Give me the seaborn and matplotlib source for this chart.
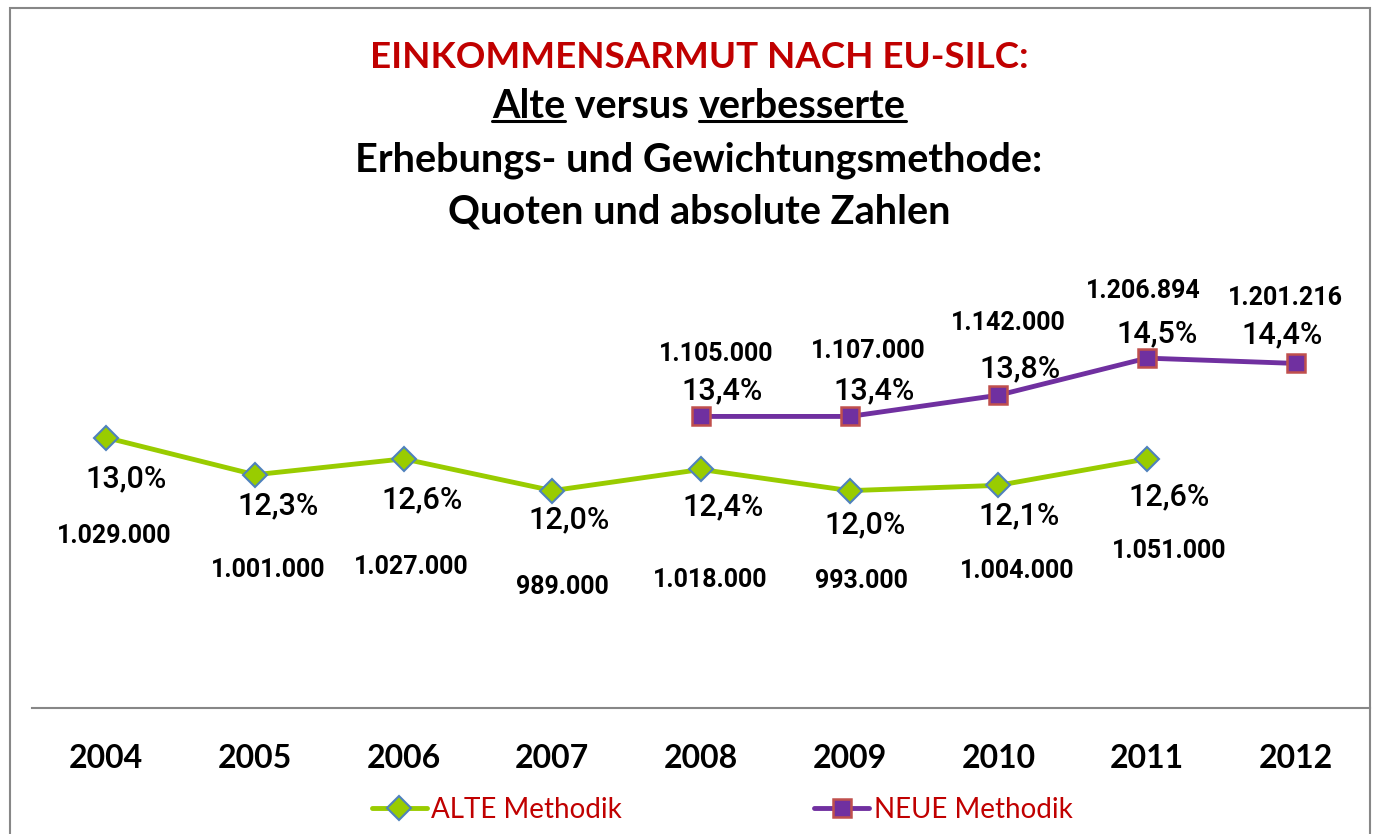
import seaborn as sns
import pandas as pd
from matplotlib import pyplot as plt
from matplotlib.lines import Line2D
from matplotlib.patches import Rectangle

# data
years = [2004, 2005, 2006, 2007, 2008, 2009, 2010, 2011, 2012]
alt_years = [2004, 2005, 2006, 2007, 2008, 2009, 2010, 2011]
alt_rate = [13.0, 12.3, 12.6, 12.0, 12.4, 12.0, 12.1, 12.6]
alt_abs = ["1.029.000", "1.001.000", "1.027.000", "989.000", "1.018.000",
           "993.000", "1.004.000", "1.051.000"]
neu_years = [2008, 2009, 2010, 2011, 2012]
neu_rate = [13.4, 13.4, 13.8, 14.5, 14.4]
neu_abs = ["1.105.000", "1.107.000", "1.142.000", "1.206.894", "1.201.216"]

# label offsets in pixels (dx, dy downward positive)
alt_pct_off = [(20, 41), (23, 31), (18, 41), (17, 29), (22, 37), (15, 34), (21, 30), (22, 38)]
alt_abs_off = [(8, 98), (13, 95), (8, 108), (10, 96), (9, 111), (12, 90), (19, 86), (22, 92)]
neu_pct_off = [(21, -26), (24, -26), (22, -26), (10, -24), (-14, -29)]
neu_abs_off = [(15, -62), (19, -65), (10, -72), (-4, -67), (-10, -65)]

GREEN = "#99CC00"
PURPLE = "#7030A0"
RED = "#C00000"
GRAY = "#878787"
TFONT = "Lato"
LFONT = "Roboto"


def fmt(v):
    return f"{v:.1f}%".replace(".", ",")


def main():
    sns.set_theme(style="white")
    plt.rcParams["font.family"] = ["DejaVu Sans"]

    df = pd.concat([
        pd.DataFrame({"Jahr": alt_years, "Quote": alt_rate, "Methodik": "ALTE Methodik"}),
        pd.DataFrame({"Jahr": neu_years, "Quote": neu_rate, "Methodik": "NEUE Methodik"}),
    ], ignore_index=True)

    fig = plt.figure(figsize=(13.74, 8.34), dpi=100)
    ax = fig.add_axes([32 / 1374, 126 / 834, 1338 / 1374, 440 / 834])

    alt_style = dict(color=GREEN, lw=3.5, marker="D", markersize=12,
                     markerfacecolor=GREEN, markeredgecolor="#4F81BD", markeredgewidth=1.5)
    neu_style = dict(color=PURPLE, lw=3.5, marker="s", markersize=13,
                     markerfacecolor=PURPLE, markeredgecolor="#C0504D", markeredgewidth=1.8)

    g = sns.lineplot(data=df[df.Methodik == "ALTE Methodik"], x="Jahr", y="Quote",
                     ax=ax, legend=False, **alt_style)
    sns.lineplot(data=df[df.Methodik == "NEUE Methodik"], x="Jahr", y="Quote",
                 ax=ax, legend=False, **neu_style)

    g.set_xlim(2003.5, 2012.5)
    g.set_ylim(7.9, 16.2)
    g.set_xticks(years)
    g.set_xticklabels([str(y) for y in years], fontsize=23, fontweight="bold",
                      family=TFONT, color="black")
    g.set_yticks([])
    g.set_xlabel("")
    g.set_ylabel("")
    g.tick_params(axis="x", length=0, pad=26)
    for s in ["top", "left", "right"]:
        g.spines[s].set_visible(False)
    g.spines["bottom"].set_color(GRAY)
    g.spines["bottom"].set_linewidth(1.5)

    k = 0.72
    for x, v, a, po, ao in zip(alt_years, alt_rate, alt_abs, alt_pct_off, alt_abs_off):
        g.annotate(fmt(v), (x, v), xytext=(po[0] * k, -po[1] * k), textcoords="offset points",
                   ha="center", va="center", fontsize=22, fontweight="medium",
                   family=LFONT, color="black")
        g.annotate(a, (x, v), xytext=(ao[0] * k, -ao[1] * k), textcoords="offset points",
                   ha="center", va="center", fontsize=18, fontweight="bold",
                   family=LFONT, color="black")
    for x, v, a, po, ao in zip(neu_years, neu_rate, neu_abs, neu_pct_off, neu_abs_off):
        g.annotate(fmt(v), (x, v), xytext=(po[0] * k, -po[1] * k), textcoords="offset points",
                   ha="center", va="center", fontsize=22, fontweight="medium",
                   family=LFONT, color="black")
        g.annotate(a, (x, v), xytext=(ao[0] * k, -ao[1] * k), textcoords="offset points",
                   ha="center", va="center", fontsize=18, fontweight="bold",
                   family=LFONT, color="black")

    # frame
    fig.patches.append(Rectangle((10 / 1374, -0.01), 1360 / 1374, 1.01 - 8 / 834,
                                 transform=fig.transFigure, fill=False,
                                 edgecolor=GRAY, lw=1.5))

    # title
    cx = 699 / 1374
    fig.text(cx, 1 - 57 / 834, "EINKOMMENSARMUT NACH EU-SILC:", ha="center", va="center",
             fontsize=26.5, fontweight="bold", color=RED, family=TFONT)
    fig.text(cx, 1 - 160 / 834, "Erhebungs- und Gewichtungsmethode:", ha="center",
             va="center", fontsize=28.5, fontweight="bold", color="black", family=TFONT)
    fig.text(cx, 1 - 212 / 834, "Quoten und absolute Zahlen", ha="center", va="center",
             fontsize=28.5, fontweight="bold", color="black", family=TFONT)

    parts = ["Alte", " versus ", "verbesserte"]
    texts = [fig.text(0, 1 - 106 / 834, p, ha="left", va="center", fontsize=28.5,
                      fontweight="bold", color="black", family=TFONT) for p in parts]
    fig.canvas.draw()
    r = fig.canvas.get_renderer()
    widths = [t.get_window_extent(r).width for t in texts]
    x0 = 699 - sum(widths) / 2
    for t, w in zip(texts, widths):
        t.set_x(x0 / 1374)
        x0 += w
    fig.canvas.draw()
    for i in (0, 2):
        bb = texts[i].get_window_extent(r)
        fig.add_artist(Line2D([bb.x0 / 1374, bb.x1 / 1374], [(bb.y0 + 4) / 834] * 2,
                              transform=fig.transFigure, color="black", lw=2.2))

    # legend
    handles = [Line2D([], [], **alt_style), Line2D([], [], **neu_style)]
    leg = fig.legend(handles, ["ALTE Methodik", "NEUE Methodik"], loc="center",
                     bbox_to_anchor=(722 / 1374, 1 - 810 / 834), ncol=2, frameon=False,
                     prop={"family": TFONT, "size": 20}, handlelength=2.0,
                     handletextpad=0.15, columnspacing=6.9)
    for t in leg.get_texts():
        t.set_color(RED)

    plt.savefig("out.png", dpi=100)


if __name__ == "__main__":
    main()
